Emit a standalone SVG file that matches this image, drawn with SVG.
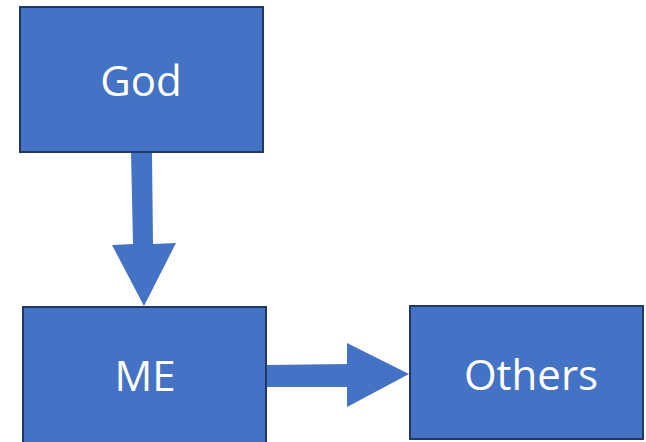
<svg xmlns="http://www.w3.org/2000/svg" width="646" height="442" viewBox="0 0 646 442">
<style>
.box{fill:#4472c4;stroke:#1f3864;stroke-width:2}
.lbl{fill:#ffffff;font-family:"Open Sans","Liberation Sans",sans-serif;font-size:42px;text-anchor:middle}
.arr{fill:#4472c4}
</style>
<rect width="646" height="442" fill="#ffffff"/>
<g id="connectors">
<polygon class="arr" points="131,152 152,152 153,244 176,243 144,306 112,245 133,244"/>
<polygon class="arr" points="266,365 347,364 347,343 409,374 347,407 347,387 266,387"/>
</g>
<g id="node-god">
<rect class="box" x="20" y="7" width="243" height="145"/>
<text class="lbl" x="141" y="96">God</text>
</g>
<g id="node-me">
<rect class="box" x="23" y="307" width="243" height="145"/>
<text class="lbl" x="145" y="391">ME</text>
</g>
<g id="node-others">
<rect class="box" x="410" y="306" width="233" height="133"/>
<text class="lbl" x="531" y="390">Others</text>
</g>
</svg>
